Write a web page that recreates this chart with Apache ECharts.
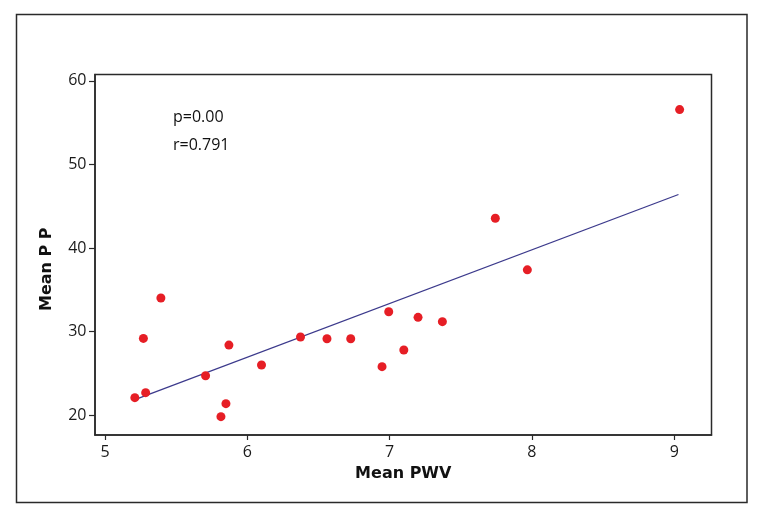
<!DOCTYPE html>
<html>
<head>
<meta charset="utf-8">
<script src="https://cdn.jsdelivr.net/npm/echarts@6/dist/echarts.min.js"></script>
<style>
  html, body { margin: 0; padding: 0; background: #fff; }
  #chart { width: 763px; height: 520px; }
</style>
</head>
<body>
<div id="chart"></div>
<script>
// Data
const meanPWV = [5.21, 5.286, 5.27, 5.393, 5.707, 5.815, 5.85, 5.871, 6.10, 6.374, 6.56, 6.727, 6.947, 6.994, 7.10, 7.20, 7.371, 7.743, 7.968, 9.038];
const meanPP  = [22.07, 22.67, 29.17, 34.0, 24.7, 19.8, 21.35, 28.37, 25.98, 29.33, 29.13, 29.13, 25.78, 32.36, 27.78, 31.69, 31.17, 43.56, 37.38, 56.57];
const fitX = [5.22, 9.03];
const fitY = [21.9, 46.4];
const xTicks = [5, 6, 7, 8, 9];
const yTicks = [20, 30, 40, 50, 60];
const annotations = ['p=0.00', 'r=0.791'];

const points = meanPWV.map((x, i) => [x, meanPP[i]]);
const fitLine = fitX.map((x, i) => [x, fitY[i]]);

const chart = echarts.init(document.getElementById('chart'), null, { renderer: 'canvas' });
const tickFont = { fontFamily: 'Open Sans', fontSize: 16, color: '#1a1a1a' };
const titleFont = { fontFamily: 'DejaVu Sans', fontSize: 16, fontWeight: 'bold', color: '#111' };

chart.setOption({
  animation: false,
  backgroundColor: '#fff',
  grid: {
    left: 95, right: 51.5, top: 74.5, bottom: 85,
    show: true, borderColor: '#2a2a2a', borderWidth: 1.5, backgroundColor: 'transparent'
  },
  xAxis: {
    type: 'value', min: 4.93, max: 9.262,
    name: 'Mean PWV', nameLocation: 'middle', nameGap: 31,
    nameTextStyle: titleFont,
    axisLine: { show: true, onZero: false, lineStyle: { color: '#2a2a2a', width: 1.5 } },
    axisTick: { show: true, length: 5, customValues: xTicks, lineStyle: { color: '#2a2a2a', width: 1.2 } },
    axisLabel: Object.assign({ customValues: xTicks, margin: 9 }, tickFont),
    splitLine: { show: false }
  },
  yAxis: {
    type: 'value', min: 17.6, max: 60.77,
    name: 'Mean P P', nameLocation: 'middle', nameGap: 40,
    nameTextStyle: Object.assign({ padding: [0, 29, 0, 0] }, titleFont),
    axisLine: { show: true, onZero: false, lineStyle: { color: '#2a2a2a', width: 1.5 } },
    axisTick: { show: true, length: 6, customValues: yTicks, lineStyle: { color: '#2a2a2a', width: 1.2 } },
    axisLabel: Object.assign({ customValues: yTicks, margin: 8.5 }, tickFont),
    splitLine: { show: false }
  },
  series: [
    {
      type: 'line', data: fitLine, symbol: 'none',
      lineStyle: { color: '#3c3a8c', width: 1.3 }, z: 2
    },
    {
      type: 'scatter', data: points, symbol: 'circle', symbolSize: 9,
      itemStyle: { color: '#e61e25', opacity: 1 }, z: 3
    }
  ],
  graphic: [
    {
      type: 'rect', silent: true,
      shape: { x: 16.5, y: 14.5, width: 730.5, height: 488 },
      style: { fill: 'none', stroke: '#2a2a2a', lineWidth: 1.5 }
    },
    {
      type: 'text', left: 173, top: 109,
      style: { text: annotations[0], font: '16px "Open Sans"', fill: '#111' }
    },
    {
      type: 'text', left: 173, top: 137,
      style: { text: annotations[1], font: '16px "Open Sans"', fill: '#111' }
    }
  ]
});
</script>
</body>
</html>
